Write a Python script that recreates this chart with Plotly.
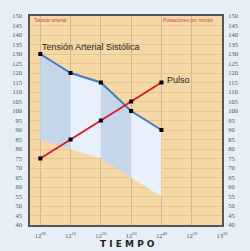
import plotly.graph_objects as go

# Data
minutes = [0, 10, 20, 30, 40]
systolic = [130, 120, 115, 100, 90]
lower_bound = [85, 80, 75, 65, 55]
pulse = [75, 85, 95, 105, 115]
x_tickvals = [0, 10, 20, 30, 40, 50, 60]
x_ticktext = ["12<sup>00</sup>", "12<sup>10</sup>", "12<sup>20</sup>", "12<sup>30</sup>",
              "12<sup>40</sup>", "12<sup>50</sup>", "13<sup>00</sup>"]
y_ticks = list(range(40, 151, 5))

band_colors = ["#c5d6eb", "#e7f0fb"]

fig = go.Figure()

for i in range(len(minutes) - 1):
    xs = [minutes[i], minutes[i + 1], minutes[i + 1], minutes[i], minutes[i]]
    ys = [systolic[i], systolic[i + 1], lower_bound[i + 1], lower_bound[i], systolic[i]]
    fig.add_trace(go.Scatter(x=xs, y=ys, fill="toself", mode="none",
                             fillcolor=band_colors[i % 2], hoverinfo="skip",
                             showlegend=False))

fig.add_trace(go.Scatter(x=minutes, y=systolic, mode="lines+markers",
                         line=dict(color="#3b7fc6", width=2),
                         marker=dict(color="black", size=4, symbol="square"),
                         showlegend=False))
fig.add_trace(go.Scatter(x=minutes, y=pulse, mode="lines+markers",
                         line=dict(color="#d2202e", width=2),
                         marker=dict(color="black", size=4, symbol="square"),
                         showlegend=False))
fig.add_trace(go.Scatter(x=[None], y=[None], yaxis="y2", showlegend=False))

tickfont = dict(family="Liberation Serif", size=6.5, color="#555")

fig.update_layout(
    width=250, height=251,
    margin=dict(l=19, r=25, t=15, b=26),
    paper_bgcolor="#e6eef8",
    plot_bgcolor="#f6d8a6",
    xaxis=dict(range=[-3.4, 60], tickvals=x_tickvals, ticktext=x_ticktext,
               tickfont=tickfont, showgrid=True, gridcolor="#cdb995", gridwidth=1,
               zeroline=False, showline=True, linecolor="#555", linewidth=1.5,
               mirror=True, ticks="outside", ticklen=3, tickcolor="rgba(0,0,0,0)"),
    yaxis=dict(range=[40, 150], tickvals=y_ticks, tickfont=tickfont,
               showgrid=True, gridcolor="#e8c58f", gridwidth=1, zeroline=False,
               showline=True, linecolor="#555", linewidth=1.5, mirror=True,
               ticks="outside", ticklen=5, tickcolor="rgba(0,0,0,0)"),
    yaxis2=dict(range=[40, 150], tickvals=y_ticks, tickfont=tickfont,
                overlaying="y", side="right", showgrid=False, zeroline=False,
                ticks="outside", ticklen=4, tickcolor="rgba(0,0,0,0)"),
    font=dict(family="Liberation Sans"),
)

fig.add_annotation(x=minutes[0], y=133.5, xref="x", yref="y", text="Tensión Arterial Sistólica",
                   showarrow=False, xanchor="left", yanchor="middle",
                   font=dict(family="Liberation Sans", size=9, color="#222"))
fig.add_annotation(x=41.2, y=116.5, xref="x", yref="y", text="Pulso",
                   showarrow=False, xanchor="left", yanchor="middle",
                   font=dict(family="Liberation Sans", size=9, color="#222"))
fig.add_annotation(x=2 / 250, y=1 - 5 / 251, xref="paper", yref="paper", text="Tensión arterial",
                   showarrow=False, xanchor="left", yanchor="middle",
                   font=dict(family="Liberation Sans", size=4.8, color="#d03a5a"))
fig.add_annotation(x=241 / 250, y=1 - 5 / 251, xref="paper", yref="paper", text="Pulsaciones por minuto",
                   showarrow=False, xanchor="right", yanchor="middle",
                   font=dict(family="Liberation Sans", size=4.8, color="#d03a5a"))
fig.add_annotation(x=127 / 250, y=-(244 - 225) / 210, xref="paper", yref="paper",
                   text="<b>T I E M P O</b>",
                   showarrow=False, xanchor="center", yanchor="middle",
                   font=dict(family="DejaVu Sans", size=9, color="#222"))

fig.write_html("out.html")
